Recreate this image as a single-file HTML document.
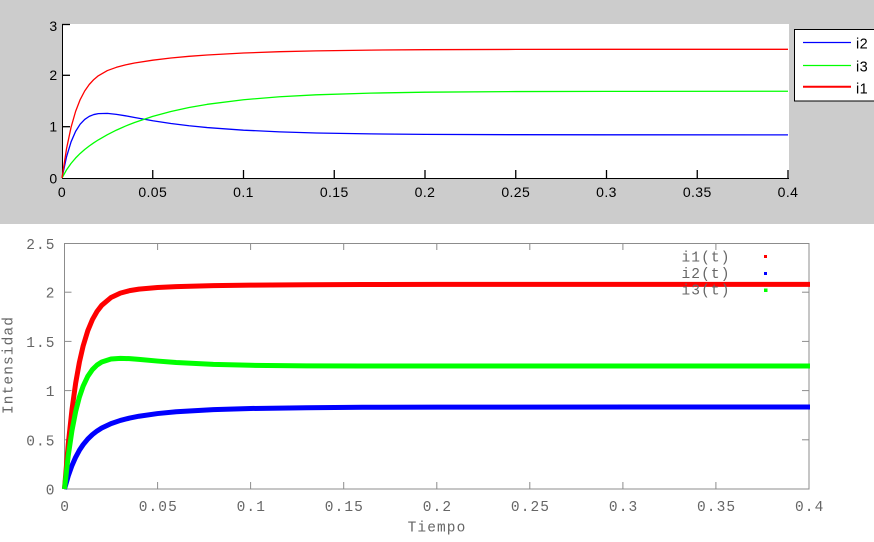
<!DOCTYPE html>
<html>
<head>
<meta charset="utf-8">
<style>
  html,body{margin:0;padding:0;background:#ffffff;}
  svg{display:block;}
  .sans{font-family:"Liberation Sans",Arial,sans-serif;font-size:14px;letter-spacing:0.4px;fill:#000;}
  .mono{font-family:"Liberation Mono","Courier New",monospace;font-size:14.5px;letter-spacing:1.1px;fill:#666;}
</style>
</head>
<body>
<svg width="874" height="542" viewBox="0 0 874 542" xmlns="http://www.w3.org/2000/svg">
  <!-- ============ TOP PLOT ============ -->
  <rect x="0" y="0" width="874" height="224" fill="#cccccc"/>
  <rect x="62" y="24" width="727" height="154" fill="#ffffff"/>
  <!-- axes -->
  <line x1="62.5" y1="24" x2="62.5" y2="178.5" stroke="#000" stroke-width="1"/>
  <line x1="62" y1="178.5" x2="789" y2="178.5" stroke="#000" stroke-width="1"/>
  <!-- ticks -->
  <g stroke="#000" stroke-width="1.3">
    <line x1="152.75" y1="170" x2="152.75" y2="178"/>
    <line x1="243.5" y1="170" x2="243.5" y2="178"/>
    <line x1="334.25" y1="170" x2="334.25" y2="178"/>
    <line x1="425" y1="170" x2="425" y2="178"/>
    <line x1="515.75" y1="170" x2="515.75" y2="178"/>
    <line x1="606.5" y1="170" x2="606.5" y2="178"/>
    <line x1="697.25" y1="170" x2="697.25" y2="178"/>
    <line x1="788" y1="170" x2="788" y2="178"/>
    <line x1="62" y1="24.5" x2="70" y2="24.5"/>
    <line x1="62" y1="75.3" x2="70" y2="75.3"/>
    <line x1="62" y1="126.7" x2="70" y2="126.7"/>
  </g>
  <!-- y labels -->
  <text class="sans" x="57.5" y="31" text-anchor="end">3</text>
  <text class="sans" x="57.5" y="80" text-anchor="end">2</text>
  <text class="sans" x="57.5" y="131.5" text-anchor="end">1</text>
  <text class="sans" x="57.5" y="183.5" text-anchor="end">0</text>
  <!-- x labels -->
  <text class="sans" x="62" y="197" text-anchor="middle">0</text>
  <text class="sans" x="152.75" y="197" text-anchor="middle">0.05</text>
  <text class="sans" x="243.5" y="197" text-anchor="middle">0.1</text>
  <text class="sans" x="334.25" y="197" text-anchor="middle">0.15</text>
  <text class="sans" x="425" y="197" text-anchor="middle">0.2</text>
  <text class="sans" x="515.75" y="197" text-anchor="middle">0.25</text>
  <text class="sans" x="606.5" y="197" text-anchor="middle">0.3</text>
  <text class="sans" x="697.25" y="197" text-anchor="middle">0.35</text>
  <text class="sans" x="788" y="197" text-anchor="middle">0.4</text>
  <!-- curves -->
  <g fill="none" stroke-width="1.3" stroke-linejoin="round">
    <path stroke="#0000ff" d="M62,178 L66.54,156.79 L71.08,141.81 L75.61,131.36 L80.15,124.21 L84.69,119.43 L89.23,116.39 L93.76,114.57 L98.3,113.62 L107.38,113.39 L116.45,114.36 L125.53,115.82 L134.6,117.48 L152.75,120.72 L170.9,123.46 L189.05,125.72 L207.2,127.55 L243.5,130.17 L279.8,131.87 L316.1,132.97 L370.55,133.91 L425,134.39 L515.75,134.71 L606.5,134.82 L788,134.87"/>
    <path stroke="#00ff00" d="M62,178 L66.54,169.86 L71.08,163.37 L75.61,158.02 L80.15,153.46 L84.69,149.51 L89.23,145.98 L93.76,142.8 L98.3,139.88 L107.38,134.66 L116.45,130.1 L125.53,126.07 L134.6,122.46 L152.75,116.35 L170.9,111.45 L189.05,107.5 L207.2,104.33 L243.5,99.72 L279.8,96.73 L316.1,94.8 L370.55,93.1 L425,92.21 L515.75,91.58 L606.5,91.36 L788,91.27"/>
    <path stroke="#ff0000" d="M62,178 L66.54,148.65 L71.08,127.18 L75.61,111.37 L80.15,99.67 L84.69,91.0 L89.23,84.5 L93.76,79.6 L98.3,75.8 L107.38,70.55 L116.45,67.3 L125.53,64.9 L134.6,63.0 L152.75,60.2 L170.9,58.0 L189.05,56.3 L207.2,55.0 L243.5,53.0 L279.8,51.7 L316.1,50.9 L370.55,50.1 L425,49.7 L515.75,49.4 L606.5,49.3 L788,49.3"/>
  </g>
  <!-- legend -->
  <rect x="794.5" y="29.5" width="81" height="71.5" fill="#ffffff" stroke="#000" stroke-width="1"/>
  <line x1="803" y1="42.5" x2="851" y2="42.5" stroke="#0000ff" stroke-width="1.2"/>
  <line x1="803" y1="65.5" x2="851" y2="65.5" stroke="#00ff00" stroke-width="1.2"/>
  <line x1="803" y1="86.7" x2="851" y2="86.7" stroke="#ff0000" stroke-width="2"/>
  <text class="sans" x="856" y="48.5" style="font-size:14.5px">i2</text>
  <text class="sans" x="856" y="71.5" style="font-size:14.5px">i3</text>
  <text class="sans" x="856" y="93.5" style="font-size:14.5px">i1</text>

  <!-- ============ BOTTOM PLOT ============ -->
  <rect x="64.5" y="243.5" width="744.5" height="245.5" fill="none" stroke="#8c8c8c" stroke-width="1"/>
  <g stroke="#8c8c8c" stroke-width="1">
    <line x1="157.6" y1="489" x2="157.6" y2="482"/><line x1="157.6" y1="243" x2="157.6" y2="250"/>
    <line x1="250.6" y1="489" x2="250.6" y2="482"/><line x1="250.6" y1="243" x2="250.6" y2="250"/>
    <line x1="343.7" y1="489" x2="343.7" y2="482"/><line x1="343.7" y1="243" x2="343.7" y2="250"/>
    <line x1="436.8" y1="489" x2="436.8" y2="482"/><line x1="436.8" y1="243" x2="436.8" y2="250"/>
    <line x1="529.8" y1="489" x2="529.8" y2="482"/><line x1="529.8" y1="243" x2="529.8" y2="250"/>
    <line x1="622.9" y1="489" x2="622.9" y2="482"/><line x1="622.9" y1="243" x2="622.9" y2="250"/>
    <line x1="715.9" y1="489" x2="715.9" y2="482"/><line x1="715.9" y1="243" x2="715.9" y2="250"/>
    <line x1="64.5" y1="439.8" x2="71.5" y2="439.8"/><line x1="809" y1="439.8" x2="802" y2="439.8"/>
    <line x1="64.5" y1="390.6" x2="71.5" y2="390.6"/><line x1="809" y1="390.6" x2="802" y2="390.6"/>
    <line x1="64.5" y1="341.4" x2="71.5" y2="341.4"/><line x1="809" y1="341.4" x2="802" y2="341.4"/>
    <line x1="64.5" y1="292.2" x2="71.5" y2="292.2"/><line x1="809" y1="292.2" x2="802" y2="292.2"/>
  </g>
  <!-- y labels -->
  <text class="mono" x="55.6" y="249" text-anchor="end">2.5</text>
  <text class="mono" x="55.6" y="297.7" text-anchor="end">2</text>
  <text class="mono" x="55.6" y="346.9" text-anchor="end">1.5</text>
  <text class="mono" x="55.6" y="396.1" text-anchor="end">1</text>
  <text class="mono" x="55.6" y="445.3" text-anchor="end">0.5</text>
  <text class="mono" x="55.6" y="494.5" text-anchor="end">0</text>
  <!-- x labels -->
  <text class="mono" x="65.2" y="511" text-anchor="middle">0</text>
  <text class="mono" x="158.3" y="511" text-anchor="middle">0.05</text>
  <text class="mono" x="251.3" y="511" text-anchor="middle">0.1</text>
  <text class="mono" x="344.4" y="511" text-anchor="middle">0.15</text>
  <text class="mono" x="437.5" y="511" text-anchor="middle">0.2</text>
  <text class="mono" x="530.5" y="511" text-anchor="middle">0.25</text>
  <text class="mono" x="623.6" y="511" text-anchor="middle">0.3</text>
  <text class="mono" x="716.6" y="511" text-anchor="middle">0.35</text>
  <text class="mono" x="809.7" y="511" text-anchor="middle">0.4</text>
  <!-- axis titles -->
  <text class="mono" x="437" y="531.5" text-anchor="middle">Tiempo</text>
  <text class="mono" transform="translate(12.5,365) rotate(-90)" x="0" y="0" text-anchor="middle">Intensidad</text>
  <!-- curves -->
  <g fill="none" stroke-width="5" stroke-linejoin="round">
    <path stroke="#ff0000" d="M64.5,489 L68.22,444.44 L71.95,409.9 L75.67,383.08 L79.39,362.25 L83.11,346.06 L87.77,330.77 L92.42,319.58 L97.07,311.36 L101.73,305.31 L111.03,297.48 L120.34,293.14 L129.64,290.64 L138.95,289.1 L157.56,287.47 L176.18,286.62 L213.4,285.66 L250.63,285.13 L306.46,284.71 L362.3,284.5 L436.75,284.4 L810,284.33"/>
    <path stroke="#0000ff" d="M64.5,489 L68.22,476.02 L71.95,465.59 L75.67,457.16 L79.39,450.3 L83.11,444.69 L87.77,439.04 L92.42,434.57 L97.07,430.96 L101.73,428.04 L111.03,423.6 L120.34,420.43 L129.64,418.06 L138.95,416.22 L157.56,413.56 L176.18,411.76 L213.4,409.58 L250.63,408.49 L306.46,407.75 L362.3,407.3 L436.75,407.1 L810,407"/>
    <path stroke="#00ff00" d="M64.5,489 L68.22,455.88 L71.95,430.66 L75.67,411.52 L79.39,397.04 L83.11,386.14 L87.77,376.3 L92.42,369.55 L97.07,365 L101.73,362.02 L111.03,359.03 L120.34,358.32 L129.64,358.63 L138.95,359.35 L157.56,361.07 L176.18,362.54 L213.4,364.39 L250.63,365.29 L306.46,365.83 L362.3,365.97 L436.75,365.98 L810,366"/>
  </g>
  <!-- legend -->
  <text class="mono" x="681.5" y="261.5">i1(t)</text>
  <text class="mono" x="681.5" y="278">i2(t)</text>
  <text class="mono" x="681.5" y="294.5">i3(t)</text>
  <rect x="764" y="255" width="3" height="3" fill="#ff0000"/>
  <rect x="764" y="272" width="3" height="3" fill="#0000ff"/>
  <rect x="764" y="288.5" width="3.5" height="3.5" fill="#00ff00"/>
</svg>
</body>
</html>
